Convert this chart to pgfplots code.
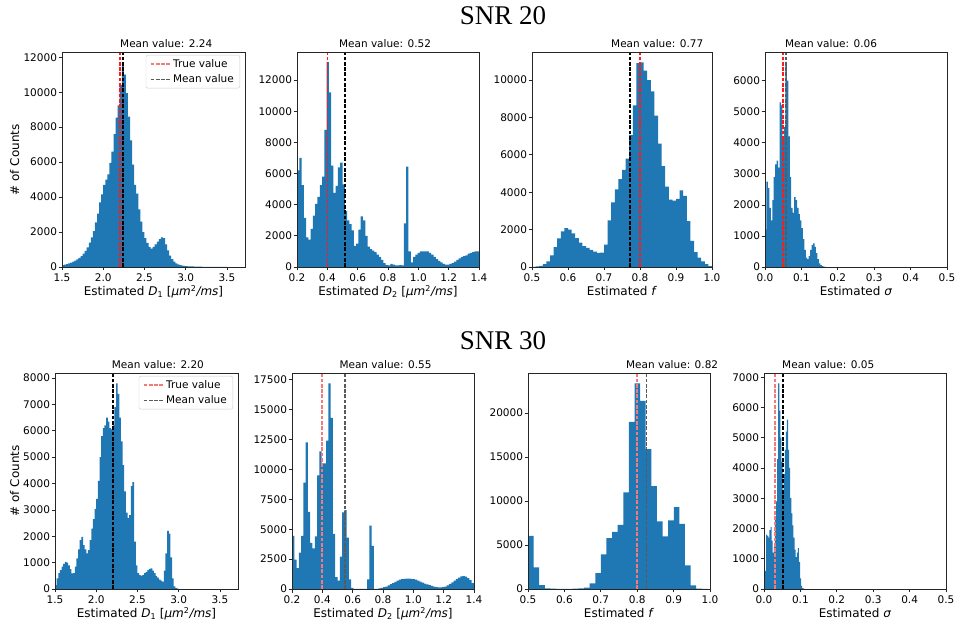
\documentclass[border=0pt]{standalone}
\usepackage{fontspec}
\setmainfont{DejaVu Sans}
\newfontfamily\titlefont{Liberation Serif}
\usepackage{pgfplots}
\usepackage{pgfplotstable}
\pgfplotsset{compat=1.18}
\definecolor{mplblue}{HTML}{1F77B4}
\definecolor{truered}{HTML}{FF1A1A}
\definecolor{truesoft}{HTML}{F47A7A}
\definecolor{meangray}{HTML}{5A5A5A}

% ---------- histogram counts (left bin edge, count); last row closes the last bin ----------
\pgfplotstableread{
x y
1.500 100
1.525 130
1.550 170
1.575 210
1.600 250
1.625 300
1.650 360
1.675 430
1.700 520
1.725 620
1.750 760
1.775 920
1.800 1120
1.825 1400
1.850 1700
1.875 2050
1.900 2550
1.925 3050
1.950 3700
1.975 4150
2.000 4700
2.025 5000
2.050 5300
2.075 5950
2.100 6600
2.125 7600
2.150 8550
2.175 9250
2.200 10400
2.225 11700
2.250 11000
2.275 9950
2.300 8600
2.325 7250
2.350 5850
2.375 4700
2.400 4200
2.425 3300
2.450 2600
2.475 2000
2.500 1650
2.525 1380
2.550 1150
2.575 1050
2.600 1150
2.625 1300
2.650 1450
2.675 1600
2.700 1700
2.725 1650
2.750 1300
2.775 950
2.800 650
2.825 450
2.850 300
2.875 200
2.900 150
2.925 110
2.950 80
2.975 60
3.000 50
3.025 40
3.050 35
3.075 30
3.100 25
3.125 20
3.150 18
3.175 15
3.200 12
3.225 10
3.250 10
3.275 8
3.300 8
3.325 6
3.350 5
3.375 5
3.400 5
3.425 4
3.450 3
3.475 3
3.500 3
}\dOneA

\pgfplotstableread{
x y
0.200 6200
0.215 7000
0.230 5250
0.245 3150
0.260 1900
0.275 1750
0.290 2450
0.305 3300
0.320 4050
0.335 4500
0.350 5250
0.365 5800
0.380 8800
0.395 13150
0.410 11200
0.425 6500
0.440 4750
0.455 5200
0.470 6400
0.485 6700
0.500 5300
0.515 3600
0.530 3000
0.545 2750
0.560 2350
0.575 1350
0.590 1500
0.605 2400
0.620 3250
0.635 3000
0.650 2000
0.665 1300
0.680 1150
0.695 1050
0.710 950
0.725 800
0.740 650
0.755 450
0.770 250
0.785 120
0.800 100
0.815 200
0.830 150
0.845 100
0.860 100
0.875 120
0.890 100
0.905 2800
0.920 6450
0.935 1000
0.950 300
0.965 650
0.980 800
0.995 900
1.010 1000
1.025 1000
1.040 1000
1.055 1000
1.070 900
1.085 800
1.100 650
1.115 500
1.130 400
1.145 300
1.160 200
1.175 150
1.190 150
1.205 200
1.220 250
1.235 350
1.250 450
1.265 550
1.280 650
1.295 700
1.310 750
1.325 850
1.340 900
1.355 950
1.370 1000
1.385 1000
1.400 1000
}\dTwoA

\pgfplotstableread{
x y
0.50 10
0.51 30
0.52 60
0.53 150
0.54 300
0.55 620
0.56 1060
0.57 1530
0.58 1900
0.59 2080
0.60 2000
0.61 1800
0.62 1550
0.63 1300
0.64 1120
0.65 1020
0.66 920
0.67 820
0.68 760
0.69 770
0.70 1200
0.71 2500
0.72 3450
0.73 4150
0.74 4700
0.75 5200
0.76 5800
0.77 7050
0.78 8650
0.79 10900
0.80 10950
0.81 10500
0.82 10000
0.83 9400
0.84 8100
0.85 6600
0.86 5400
0.87 4300
0.88 3600
0.89 3550
0.90 3650
0.91 4100
0.92 3800
0.93 2450
0.94 1400
0.95 800
0.96 500
0.97 300
0.98 150
0.99 50
1.00 50
}\fA

\pgfplotstableread{
x y
0.000 1200
0.004 2750
0.008 2550
0.012 1900
0.016 1500
0.020 2150
0.024 2900
0.028 3300
0.032 3420
0.036 3200
0.040 5300
0.044 5200
0.048 4100
0.052 4500
0.056 6600
0.060 6000
0.064 4200
0.068 2900
0.072 1900
0.076 1750
0.080 2250
0.084 2150
0.088 1900
0.092 1700
0.096 1500
0.100 1250
0.104 900
0.108 550
0.112 300
0.116 250
0.120 350
0.124 550
0.128 700
0.132 760
0.136 650
0.140 450
0.144 250
0.148 120
0.152 60
0.156 30
0.160 15
0.164 5
0.168 5
}\sA

\pgfplotstableread{
x y
1.50 150
1.52 400
1.54 600
1.56 720
1.58 850
1.60 950
1.62 1030
1.64 1000
1.66 900
1.68 750
1.70 590
1.72 600
1.74 850
1.76 1160
1.78 1500
1.80 1850
1.82 1975
1.84 1660
1.86 1500
1.88 1350
1.90 1470
1.92 1850
1.94 2290
1.96 2650
1.98 3040
2.00 3420
2.02 4100
2.04 5000
2.06 5800
2.08 6100
2.10 6200
2.12 6500
2.14 6350
2.16 6100
2.18 6050
2.20 6200
2.22 6900
2.24 7800
2.26 7400
2.28 6500
2.30 5600
2.32 4700
2.34 3700
2.36 2900
2.38 2700
2.40 2800
2.42 3900
2.44 4050
2.46 1800
2.48 900
2.50 600
2.52 530
2.54 510
2.56 530
2.58 600
2.60 650
2.62 720
2.64 760
2.66 780
2.68 700
2.70 600
2.72 500
2.74 430
2.76 360
2.78 320
2.80 280
2.82 700
2.84 1350
2.86 2200
2.88 2100
2.90 1200
2.92 400
2.94 100
2.96 30
2.98 10
3.00 10
}\dOneB

\pgfplotstableread{
x y
0.200 4450
0.215 2450
0.230 1750
0.245 3050
0.260 4450
0.275 8900
0.290 12250
0.305 6450
0.320 3850
0.335 3400
0.350 4400
0.365 9500
0.380 11500
0.395 10500
0.410 10500
0.425 12400
0.440 17200
0.455 14300
0.470 4600
0.485 1000
0.500 700
0.515 2700
0.530 6400
0.545 6600
0.560 4300
0.575 800
0.590 100
0.605 0
0.620 0
0.635 0
0.650 0
0.665 0
0.680 0
0.695 800
0.710 5300
0.725 3600
0.740 0
0.755 0
0.770 50
0.785 100
0.800 150
0.815 200
0.830 300
0.845 400
0.860 500
0.875 600
0.890 700
0.905 780
0.920 830
0.935 850
0.950 870
0.965 860
0.980 850
0.995 830
1.010 780
1.025 700
1.040 620
1.055 530
1.070 450
1.085 380
1.100 320
1.115 260
1.130 200
1.145 160
1.160 140
1.175 130
1.190 150
1.205 200
1.220 300
1.235 420
1.250 560
1.265 700
1.280 850
1.295 960
1.310 1050
1.325 1080
1.340 1030
1.355 900
1.370 750
1.385 500
1.400 500
}\dTwoB

\pgfplotstableread{
x y
0.5000 6050
0.5154 2450
0.5308 450
0.5462 60
0.5616 40
0.5770 20
0.5924 20
0.6078 20
0.6232 30
0.6386 60
0.6540 150
0.6694 650
0.6848 1800
0.7002 3950
0.7156 5800
0.7310 6500
0.7464 7300
0.7618 11000
0.7772 19000
0.7926 23400
0.8080 21400
0.8234 15900
0.8388 11700
0.8542 7700
0.8696 6000
0.8850 7800
0.9004 9300
0.9158 7400
0.9312 2700
0.9466 400
0.9620 50
0.9774 10
0.9928 10
}\fB

\pgfplotstableread{
x y
0.000 100
0.003 600
0.006 1800
0.009 1750
0.012 1700
0.015 1950
0.018 2050
0.021 1600
0.024 1200
0.027 1400
0.030 2300
0.033 2900
0.036 4300
0.039 6800
0.042 5900
0.045 5000
0.048 4200
0.051 3200
0.054 3800
0.057 4600
0.060 5200
0.063 5600
0.066 4600
0.069 4000
0.072 3000
0.075 2500
0.078 2100
0.081 1700
0.084 1300
0.087 1050
0.090 1200
0.093 1350
0.096 900
0.099 350
0.102 100
0.105 30
0.108 10
0.111 10
}\sB

\newcommand{\smallfont}{\fontsize{10.5}{12}\selectfont}
\newcommand{\legfont}{\fontsize{10.5}{12.5}\selectfont}
\newcommand{\labfont}{\fontsize{12}{14}\selectfont}

\tikzset{
  meanlabel/.style={anchor=base west, inner sep=0pt, yshift=4pt, font=\smallfont},
}

\pgfplotsset{
  histax/.style={
    scale only axis, width=182pt, anchor=south west,
    ymin=0, clip mode=individual,
    axis line style={black!85, line width=0.7pt},
    tick align=outside, tick pos=left, major tick length=3.5pt,
    tick style={black!85, line width=0.7pt},
    tick label style={font=\fontsize{10.5}{12}\selectfont},
    yticklabel style={xshift=2pt},
    /pgf/number format/assume math mode=true,
    scaled ticks=false,
    yticklabel style={/pgf/number format/.cd, fixed, 1000 sep={}},
    xticklabel style={/pgf/number format/.cd, fixed, fixed zerofill, precision=1},
    xlabel style={at={(axis description cs:0.5,0)}, anchor=base, yshift=-29pt,
                  font=\labfont},
    axis on top,
  },
  legax/.style={
    legend style={at={(1,1)}, anchor=north east, xshift=-5pt, yshift=-3pt,
      draw=black!20, rounded corners=2pt, fill=white,
      font=\legfont, inner xsep=4pt, inner ysep=2pt,
      row sep=2pt, cells={anchor=west}},
    legend image code/.code={\draw[##1, dash pattern=on 3.7pt off 1.6pt, line width=1.2pt]
      (0pt,0pt) -- (20pt,0pt);},
  },
  hist/.style={const plot, fill=mplblue, draw=none, forget plot},
  vline/.style={dash pattern=on 3.7pt off 1.6pt, line width=1.3pt, forget plot},
  tline/.style={dash pattern=on 3.7pt off 1.6pt, line width=1.6pt, forget plot},
}

\newcommand{\Done}{Estimated \textit{D}\textsubscript{1} [\textit{μm}\textsuperscript{2}\textit{/ms}]}
\newcommand{\Dtwo}{Estimated \textit{D}\textsubscript{2} [\textit{μm}\textsuperscript{2}\textit{/ms}]}

\begin{document}
\begin{tikzpicture}
\useasboundingbox (0pt,0pt) rectangle (957pt,628pt);

\node[anchor=base, font=\titlefont\fontsize{27}{30}\selectfont] at (503pt,603pt) {SNR 20};
\node[anchor=base, font=\titlefont\fontsize{27}{30}\selectfont] at (503pt,278pt) {SNR 30};
\node[anchor=base, rotate=90, font=\labfont] at (19pt,468pt) {\# of Counts};
\node[anchor=base, rotate=90, font=\labfont] at (19pt,147pt) {\# of Counts};

% ================= SNR 20 =================
\begin{axis}[histax, legax, at={(62pt,361pt)}, width=183pt, height=215pt,
  xmin=1.5, xmax=3.72, ymax=12300,
  xtick={1.5,2.0,2.5,3.0,3.5}, ytick={0,2000,4000,6000,8000,10000,12000},
  xlabel={\Done}]
  \addplot[hist] table {\dOneA} \closedcycle;
  \addplot[tline, color=truered] coordinates {(2.2,0) (2.2,12300)};
  \addplot[vline, color=black] coordinates {(2.24,0) (2.24,12300)};
  \addlegendimage{color=truesoft}
  \addlegendentry{\legfont True value}
  \addlegendimage{color=meangray}
  \addlegendentry{\legfont Mean value}
  \node[meanlabel] at (rel axis cs:0.317,1) {Mean value: 2.24};
\end{axis}

\begin{axis}[histax, at={(297pt,361pt)}, height=215pt,
  xmin=0.2, xmax=1.4, ymax=13800,
  xtick={0.2,0.4,0.6,0.8,1.0,1.2,1.4}, ytick={0,2000,4000,6000,8000,10000,12000},
  xlabel={\Dtwo}]
  \addplot[hist] table {\dTwoA} \closedcycle;
  \addplot[tline, color=truered] coordinates {(0.4,0) (0.4,13800)};
  \addplot[vline, color=black] coordinates {(0.516,0) (0.516,13800)};
  \node[meanlabel] at (rel axis cs:0.23,1) {Mean value: 0.52};
\end{axis}

\begin{axis}[histax, at={(532pt,361pt)}, width=180pt, height=215pt,
  xmin=0.5, xmax=1.0, ymax=11500,
  xtick={0.5,0.6,0.7,0.8,0.9,1.0}, ytick={0,2000,4000,6000,8000,10000},
  xlabel={Estimated \textit{f}}]
  \addplot[hist] table {\fA} \closedcycle;
  \addplot[tline, color=truered] coordinates {(0.8,0) (0.8,11500)};
  \addplot[vline, color=black] coordinates {(0.772,0) (0.772,11500)};
  \node[meanlabel] at (rel axis cs:0.439,1) {Mean value: 0.77};
\end{axis}

\begin{axis}[histax, at={(765pt,361pt)}, height=215pt,
  xmin=0, xmax=0.5, ymax=6920,
  xtick={0,0.1,0.2,0.3,0.4,0.5}, ytick={0,1000,2000,3000,4000,5000,6000},
  xlabel={Estimated \textit{σ}}]
  \addplot[hist] table {\sA} \closedcycle;
  \addplot[tline, color=truered] coordinates {(0.05,0) (0.05,6920)};
  \addplot[vline, color=meangray] coordinates {(0.058,0) (0.058,6920)};
  \node[meanlabel] at (rel axis cs:0.109,1) {Mean value: 0.06};
\end{axis}

% ================= SNR 30 =================
\begin{axis}[histax, legax, at={(55pt,39pt)}, width=183pt, height=216pt,
  xmin=1.5, xmax=3.72, ymax=8190,
  xtick={1.5,2.0,2.5,3.0,3.5}, ytick={0,1000,2000,3000,4000,5000,6000,7000,8000},
  xlabel={\Done}]
  \addplot[hist] table {\dOneB} \closedcycle;
  \addplot[vline, color=truesoft] coordinates {(2.2,0) (2.2,8190)};
  \addplot[vline, color=black] coordinates {(2.205,0) (2.205,8190)};
  \addlegendimage{color=truesoft}
  \addlegendentry{\legfont True value}
  \addlegendimage{color=meangray}
  \addlegendentry{\legfont Mean value}
  \node[meanlabel] at (rel axis cs:0.31,1) {Mean value: 2.20};
\end{axis}

\begin{axis}[histax, at={(292pt,39pt)}, height=216pt,
  xmin=0.2, xmax=1.4, ymax=18060,
  xtick={0.2,0.4,0.6,0.8,1.0,1.2,1.4},
  ytick={0,2500,5000,7500,10000,12500,15000,17500},
  xlabel={\Dtwo}]
  \addplot[hist] table {\dTwoB} \closedcycle;
  \addplot[vline, color=truesoft, line width=1.8pt] coordinates {(0.4,0) (0.4,18060)};
  \addplot[vline, color=meangray] coordinates {(0.55,0) (0.55,18060)};
  \node[meanlabel] at (rel axis cs:0.26,1) {Mean value: 0.55};
\end{axis}

\begin{axis}[histax, at={(528pt,39pt)}, height=216pt,
  xmin=0.5, xmax=1.0, ymax=24570,
  xtick={0.5,0.6,0.7,0.8,0.9,1.0}, ytick={0,5000,10000,15000,20000},
  xlabel={Estimated \textit{f}}]
  \addplot[hist] table {\fB} \closedcycle;
  \addplot[vline, color=truesoft, line width=1.6pt] coordinates {(0.8,0) (0.8,24570)};
  \addplot[vline, color=meangray] coordinates {(0.825,0) (0.825,24570)};
  \node[meanlabel] at (rel axis cs:0.538,1) {Mean value: 0.82};
\end{axis}

\begin{axis}[histax, at={(764pt,39pt)}, height=216pt,
  xmin=0, xmax=0.5, ymax=7140,
  xtick={0,0.1,0.2,0.3,0.4,0.5}, ytick={0,1000,2000,3000,4000,5000,6000,7000},
  xlabel={Estimated \textit{σ}}]
  \addplot[hist] table {\sB} \closedcycle;
  \addplot[vline, color=truesoft, line width=1.8pt] coordinates {(0.031,0) (0.031,7140)};
  \addplot[vline, color=black] coordinates {(0.052,0) (0.052,7140)};
  \node[meanlabel] at (rel axis cs:0.099,1) {Mean value: 0.05};
\end{axis}
\end{tikzpicture}
\end{document}
